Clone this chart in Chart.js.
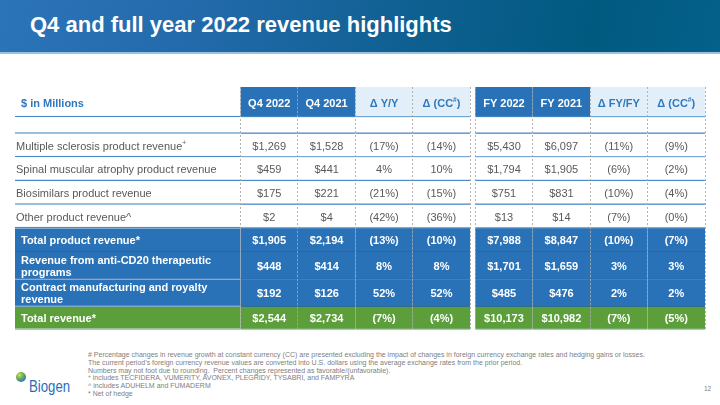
<!DOCTYPE html>
<html>
<head>
<meta charset="utf-8">
<script src="https://cdn.jsdelivr.net/npm/chart.js@4.4.1/dist/chart.umd.min.js"></script>
<style>
  html, body { margin: 0; padding: 0; background: #ffffff; }
  #page { position: relative; width: 720px; height: 405px; overflow: hidden; font-family: "Liberation Sans", Arial, sans-serif; }
  #band { position: absolute; left: 0; top: 0; width: 720px; height: 52px;
          background: linear-gradient(100deg, #2c74b8 0%, #2169a9 30%, #0d5f8f 60%, #005a80 82%, #05608a 100%); }
  #bandline { position: absolute; left: 0; top: 52px; width: 720px; height: 2px; background: #9cc0e0; }
  #title { position: absolute; left: 30px; top: 12px; line-height: 26px; font-size: 22px; font-weight: bold; color: #ffffff; white-space: nowrap; }
  #wrap { position: absolute; left: 0; top: 80px; width: 720px; height: 260px; }
  #notes { position: absolute; left: 88px; top: 351px; font-size: 7px; line-height: 7.8px; color: #808080; white-space: nowrap; -webkit-font-smoothing: antialiased; }
  #notes sup { font-size: 4.8px; vertical-align: 2px; line-height: 0; }
  #logo { position: absolute; left: 29px; top: 376px; font-size: 16.5px; line-height: 20px; color: #1f6fb8; transform-origin: 0 0; transform: scaleX(0.8); white-space: nowrap; }
  #orb { position: absolute; left: 16px; top: 372px; width: 10px; height: 10px; border-radius: 50%;
         background: radial-gradient(circle at 35% 30%, #c9e27a 0%, #7cb342 35%, #2f7fc0 70%, #1b5aa0 100%); }
  #pnum { position: absolute; left: 704px; top: 385px; font-size: 6.5px; line-height: 8px; color: #808080; }
</style>
</head>
<body>
<div id="page">
  <div id="band"></div>
  <div id="bandline"></div>
  <div id="title">Q4 and full year 2022 revenue highlights</div>
  <div id="wrap"><canvas id="c" width="720" height="260"></canvas></div>
  <div id="notes">
    # Percentage changes in revenue growth at constant currency (CC) are presented excluding the impact of changes in foreign currency exchange rates and hedging gains or losses.<br>
    The current period’s foreign currency revenue values are converted into U.S. dollars using the average exchange rates from the prior period.<br>
    Numbers may not foot due to rounding.&nbsp; Percent changes represented as favorable/(unfavorable).<br>
    <sup>+</sup> includes TECFIDERA, VUMERITY, AVONEX, PLEGRIDY, TYSABRI, and FAMPYRA<br>
    ^ includes ADUHELM and FUMADERM<br>
    * Net of hedge
  </div>
  <div id="orb"></div>
  <div id="logo">Biogen</div>
  <div id="pnum">12</div>
</div>
<script>
// ---------------- DATA ----------------
const unitLabel = '$ in Millions';
const rowLabels = [
  'Multiple sclerosis product revenue⁺',
  'Spinal muscular atrophy product revenue',
  'Biosimilars product revenue',
  'Other product revenue^',
  'Total product revenue*',
  'Revenue from anti-CD20 therapeutic programs',
  'Contract manufacturing and royalty revenue',
  'Total revenue*'
];
const columnLabels = ['Q4 2022', 'Q4 2021', 'Δ Y/Y', 'Δ (CC#)', 'FY 2022', 'FY 2021', 'Δ FY/FY', 'Δ (CC#)'];
const q4_2022   = [1269, 459, 175, 2, 1905, 448, 192, 2544];
const q4_2021   = [1528, 441, 221, 4, 2194, 414, 126, 2734];
const yoyPct    = [-17, 4, -21, -42, -13, 8, 52, -7];
const yoyCcPct  = [-14, 10, -15, -36, -10, 8, 52, -4];
const fy2022    = [5430, 1794, 751, 13, 7988, 1701, 485, 10173];
const fy2021    = [6097, 1905, 831, 14, 8847, 1659, 476, 10982];
const fyfyPct   = [-11, -6, -10, -7, -10, 3, 2, -7];
const fyCcPct   = [-9, -2, -4, -0, -7, 3, 2, -5];

// ---------------- LAYOUT / STYLE ----------------
const columnValues = [q4_2022, q4_2021, yoyPct, yoyCcPct, fy2022, fy2021, fyfyPct, fyCcPct];
const columnKinds  = ['money', 'money', 'pct', 'pct', 'money', 'money', 'pct', 'pct'];
const headerDark   = [true, true, false, false, true, true, false, false];
const rowKinds = ['head', 'blank', 'plain', 'plain', 'plain', 'plain', 'blue', 'blue', 'blue', 'green'];
const rowWeights = [30.3, 16.4, 23.6, 23.7, 23.7, 23.6, 23.7, 27.3, 27.4, 23.3];
const labelColUnits = 3.925;
const gapUnits = 0.087;

const C = {
  dark: '#2a72b7', light: '#e3eff8', blue: '#2a72b7', green: '#5b9e3a',
  line: '#4a8bcb', blueLine: '#2563a3', greenLine: '#a3c6e6',
  text: '#595959', headText: '#2f78bd'
};
const FONT = '"Liberation Sans", Arial, sans-serif';

const fmtMoney = v => '$' + v.toLocaleString('en-US');
const fmtPct = v => (v < 0 || Object.is(v, -0)) ? '(' + Math.abs(v) + '%)' : v + '%';

const rowTops = [];
let acc = 0;
rowWeights.forEach(h => { rowTops.push(acc); acc += h; });
const totalH = acc;

const xMin = -labelColUnits;
const xMax = 8 + gapUnits;
const colCenter = c => (c < 4 ? c + 0.5 : c + 0.5 + gapUnits);
const centers = [-labelColUnits / 2].concat([0,1,2,3,4,5,6,7].map(colCenter));
const edges = [0, 1, 2, 3, 4, 4 + gapUnits, 5 + gapUnits, 6 + gapUnits, 7 + gapUnits, 8 + gapUnits];

function cellBg(col, r) {
  const k = rowKinds[r];
  if (k === 'head') return col < 0 ? '#ffffff' : (headerDark[col] ? C.dark : C.light);
  if (k === 'blue') return C.blue;
  if (k === 'green') return C.green;
  return '#ffffff';
}
function cellBorder(r) {
  const k = rowKinds[r];
  if (k === 'blue') return { w: 1, c: C.blueLine };
  if (k === 'green') return { w: 1.5, c: C.greenLine };
  return { w: 1.5, c: C.line };
}

function makeDataset(col) {
  const texts = [];
  if (col < 0) {
    texts.push(unitLabel, '');
    rowLabels.forEach(l => texts.push(l));
  } else {
    texts.push(columnLabels[col], '');
    const fmt = columnKinds[col] === 'money' ? fmtMoney : fmtPct;
    columnValues[col].forEach(v => texts.push(fmt(v)));
  }
  const x = col < 0 ? centers[0] : colCenter(col);
  return {
    label: col < 0 ? 'labels' : columnLabels[col],
    col: col,
    texts: texts,
    xAxisID: 'x', yAxisID: 'y',
    data: rowWeights.map((h, r) => ({ x: x, y: [rowTops[r], rowTops[r] + h] })),
    categoryPercentage: col < 0 ? labelColUnits : 1,
    barPercentage: 1,
    grouped: false,
    borderSkipped: false,
    backgroundColor: ctx => cellBg(col, ctx.dataIndex),
    borderColor: ctx => cellBorder(ctx.dataIndex).c,
    borderWidth: ctx => ({ top: 0, left: 0, right: 0, bottom: cellBorder(ctx.dataIndex).w })
  };
}

const datasets = [makeDataset(-1)];
for (let c = 0; c < 8; c++) datasets.push(makeDataset(c));

function drawRich(ctx, text, x, y, align, weight, size, color) {
  const segs = [];
  let cur = '';
  for (const ch of text) {
    if (ch === '#' || ch === '⁺') {
      if (cur) segs.push({ t: cur, sup: false });
      cur = '';
      segs.push({ t: ch === '⁺' ? '+' : '#', sup: true });
    } else cur += ch;
  }
  if (cur) segs.push({ t: cur, sup: false });
  const fN = weight + ' ' + size + 'px ' + FONT;
  const fS = weight + ' ' + (size * 0.6).toFixed(2) + 'px ' + FONT;
  let total = 0;
  segs.forEach(s => { ctx.font = s.sup ? fS : fN; s.w = ctx.measureText(s.t).width; total += s.w; });
  let cx = align === 'center' ? x - total / 2 : x;
  ctx.fillStyle = color;
  ctx.textAlign = 'left';
  ctx.textBaseline = 'middle';
  segs.forEach(s => {
    ctx.font = s.sup ? fS : fN;
    ctx.fillText(s.t, cx, s.sup ? y - size * 0.33 : y);
    cx += s.w;
  });
}
function wrapLines(ctx, text, font, maxW) {
  ctx.font = font;
  const words = text.split(' ');
  const lines = [];
  let line = '';
  words.forEach(w => {
    const test = line ? line + ' ' + w : w;
    if (ctx.measureText(test).width > maxW && line) { lines.push(line); line = w; }
    else line = test;
  });
  if (line) lines.push(line);
  return lines;
}

const tableText = {
  id: 'tableText',
  afterDatasetsDraw(chart) {
    const ctx = chart.ctx;
    ctx.save();
    chart.data.datasets.forEach((ds, di) => {
      const meta = chart.getDatasetMeta(di);
      meta.data.forEach((el, r) => {
        const txt = ds.texts[r];
        if (!txt) return;
        const p = el.getProps(['x', 'y', 'base', 'width'], true);
        const kind = rowKinds[r];
        let cy = (p.y + p.base) / 2 + 1;
        const size = 11;
        let weight = 'normal', color = C.text;
        if (kind === 'head') {
          weight = 'bold';
          cy += 1;
          color = (ds.col >= 0 && headerDark[ds.col]) ? '#ffffff' : C.headText;
        } else if (kind === 'blue' || kind === 'green') {
          weight = 'bold'; color = '#ffffff';
        }
        if (ds.col < 0) {
          const pad = (kind === 'plain') ? 1 : 6;
          const left = p.x - p.width / 2 + pad;
          const lines = wrapLines(ctx, txt, weight + ' ' + size + 'px ' + FONT, p.width - 12);
          const lh = 11.8;
          lines.forEach((ln, i) => {
            drawRich(ctx, ln, left, cy + (i - (lines.length - 1) / 2) * lh, 'left', weight, size, color);
          });
        } else {
          drawRich(ctx, txt, p.x, cy, 'center', weight, size, color);
        }
      });
    });
    ctx.restore();
  }
};

new Chart(document.getElementById('c'), {
  type: 'bar',
  data: { datasets: datasets },
  options: {
    responsive: false,
    animation: false,
    devicePixelRatio: 1,
    events: [],
    indexAxis: 'x',
    layout: { padding: { left: 15, right: 15, top: 7, bottom: 10 } },
    plugins: { legend: { display: false }, tooltip: { enabled: false }, title: { display: false } },
    scales: {
      x: {
        type: 'linear', min: xMin, max: xMax, offset: false, display: false,
        ticks: { display: false },
        afterBuildTicks: s => { s.ticks = centers.map(v => ({ value: v })); }
      },
      xg: {
        type: 'linear', axis: 'x', position: 'bottom', min: xMin, max: xMax, offset: false, display: true,
        ticks: { display: false },
        border: { display: false, dash: [2, 2] },
        grid: { z: 1, offset: false, color: 'rgba(165,165,165,0.85)', lineWidth: 1, drawTicks: false },
        afterBuildTicks: s => { s.ticks = edges.map(v => ({ value: v })); },
        afterFit: s => { s.height = 0; }
      },
      y: { type: 'linear', min: 0, max: totalH, reverse: true, display: false }
    }
  },
  plugins: [tableText]
});
</script>
</body>
</html>
